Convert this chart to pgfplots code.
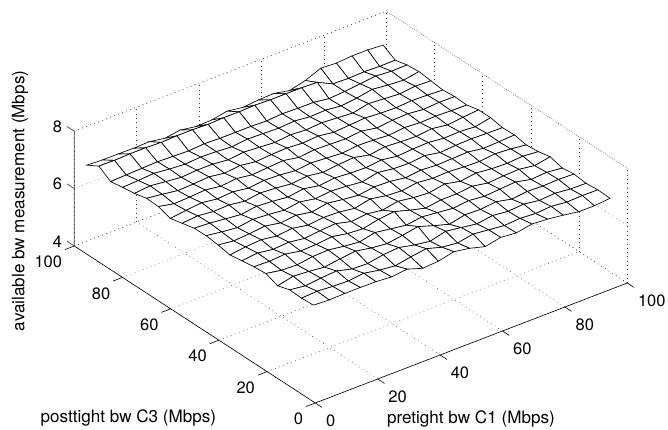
\documentclass[border=0pt]{standalone}
\usepackage{fontspec}
\setmainfont{TeX Gyre Heros}
\usepackage{pgfplots}
\pgfplotsset{compat=1.18}
\begin{document}
\begin{tikzpicture}[x=1pt,y=1pt]
\path[use as bounding box] (0,0) rectangle (668,430);
\begin{axis}[
  at={(315.3pt,27pt)}, anchor=origin,
  disabledatascaling,
  x={(3.12pt,1.2pt)}, y={(-2.41pt,1.57pt)}, z={(0pt,28.7pt)},
  xmin=0,xmax=100,ymin=0,ymax=100,zmin=4,zmax=8,
  xtick={0,20,40,60,80,100}, ytick={0,20,40,60,80,100}, ztick={4,6,8},
  grid=major,
  grid style={black!75, line width=0.5pt, dash pattern=on 0.7pt off 3.6pt},
  major tick length=0pt,
  axis line style={draw=none},
  clip=false,
  unbounded coords=jump,
  /pgf/number format/assume math mode=true,
  tick label style={font=\fontsize{16.5}{18}\selectfont, inner sep=0pt},
  xticklabel style={anchor=west, xshift=10.5pt, yshift=-18pt},
  yticklabel style={anchor=east, xshift=-12pt, yshift=-16pt},
  zticklabel style={anchor=east, xshift=-12pt, yshift=4.5pt},
  label style={font=\fontsize{17.1}{19}\selectfont, inner sep=0pt},
  xlabel={pretight bw C1 (Mbps)},
  ylabel={posttight bw C3 (Mbps)},
  zlabel={available bw measurement (Mbps)},
  xlabel style={at={(axis cs:26.4,-30.4,4)}, anchor=center},
  ylabel style={at={(axis cs:-42.3,22.8,4)}, anchor=center},
  zlabel style={at={(axis cs:3,126.4,4)}, anchor=center, rotate=0},
]
% dotted box edges
\addplot3[black!75, line width=0.5pt, dash pattern=on 0.7pt off 3.6pt, forget plot] coordinates {
 (0,100,8) (100,100,8) (100,0,8) (nan,nan,nan)
 (100,100,4) (100,100,8) (nan,nan,nan)
 (100,0,4) (100,0,8)};
% axis lines and ticks
\addplot3[black, line width=0.6pt, forget plot] coordinates {
 (0,100,4) (0,0,4) (100,0,4) (nan,nan,nan)
 (0,0,4) (0,-2.8,4) (nan,nan,nan)
 (20,0,4) (20,-2.8,4) (nan,nan,nan)
 (40,0,4) (40,-2.8,4) (nan,nan,nan)
 (60,0,4) (60,-2.8,4) (nan,nan,nan)
 (80,0,4) (80,-2.8,4) (nan,nan,nan)
 (100,0,4) (100,-2.8,4) (nan,nan,nan)
 (0,0,4) (-3,0,4) (nan,nan,nan)
 (0,20,4) (-3,20,4) (nan,nan,nan)
 (0,40,4) (-3,40,4) (nan,nan,nan)
 (0,60,4) (-3,60,4) (nan,nan,nan)
 (0,80,4) (-3,80,4) (nan,nan,nan)
 (0,100,4) (-3,100,4)};
\addplot3[black!70, line width=0.7pt, forget plot] coordinates {
 (0,100,4) (0,100,8) (nan,nan,nan)
 (0,100,4) (0,103,4) (nan,nan,nan)
 (0,100,6) (0,103,6) (nan,nan,nan)
 (0,100,8) (0,103,8)};
% surface
\addplot3[surf, shader=faceted, faceted color=black, line width=0.65pt, z buffer=sort,
  colormap={wh}{color=(white) color=(white)}, mesh/rows=20, mesh/cols=20] coordinates {
(4,5.9,6.92) (9,5.9,6.89) (14,5.9,6.91) (19,5.9,6.91) (24,5.9,6.90) (29,5.9,6.86) (34,5.9,6.92) (39,5.9,6.74) (44,5.9,6.78) (49,5.9,6.90) (54,5.9,6.81) (59,5.9,6.66) (64,5.9,6.77) (69,5.9,6.72) (74,5.9,6.82) (79,5.9,6.78) (84,5.9,6.71) (89,5.9,6.62) (94,5.9,6.62) (99,5.9,6.67)

(4,10.9,6.89) (9,10.9,6.92) (14,10.9,6.88) (19,10.9,6.86) (24,10.9,6.92) (29,10.9,6.82) (34,10.9,6.76) (39,10.9,6.86) (44,10.9,6.94) (49,10.9,6.78) (54,10.9,6.72) (59,10.9,6.82) (64,10.9,6.76) (69,10.9,6.70) (74,10.9,6.74) (79,10.9,6.70) (84,10.9,6.74) (89,10.9,6.68) (94,10.9,6.70) (99,10.9,6.69)

(4,15.8,6.91) (9,15.8,6.84) (14,15.8,6.90) (19,15.8,6.94) (24,15.8,6.80) (29,15.8,6.78) (34,15.8,6.88) (39,15.8,6.92) (44,15.8,6.80) (49,15.8,6.72) (54,15.8,6.86) (59,15.8,6.78) (64,15.8,6.70) (69,15.8,6.78) (74,15.8,6.72) (79,15.8,6.76) (84,15.8,6.68) (89,15.8,6.72) (94,15.8,6.66) (99,15.8,6.65)

(4,20.8,6.78) (9,20.8,6.90) (14,20.8,6.86) (19,20.8,6.80) (24,20.8,6.88) (29,20.8,6.94) (34,20.8,6.84) (39,20.8,6.78) (44,20.8,6.86) (49,20.8,6.96) (54,20.8,6.78) (59,20.8,6.62) (64,20.8,6.74) (69,20.8,6.72) (74,20.8,6.78) (79,20.8,6.66) (84,20.8,6.72) (89,20.8,6.70) (94,20.8,6.72) (99,20.8,6.70)

(4,25.7,6.94) (9,25.7,6.84) (14,25.7,6.82) (19,25.7,6.90) (24,25.7,6.92) (29,25.7,6.84) (34,25.7,6.78) (39,25.7,6.90) (44,25.7,6.82) (49,25.7,6.74) (54,25.7,6.82) (59,25.7,6.76) (64,25.7,6.70) (69,25.7,6.76) (74,25.7,6.70) (79,25.7,6.74) (84,25.7,6.78) (89,25.7,6.66) (94,25.7,6.70) (99,25.7,6.64)

(4,30.7,6.90) (9,30.7,6.88) (14,30.7,6.92) (19,30.7,6.82) (24,30.7,6.84) (29,30.7,6.90) (34,30.7,6.80) (39,30.7,6.76) (44,30.7,6.88) (49,30.7,6.94) (54,30.7,6.78) (59,30.7,6.64) (64,30.7,6.72) (69,30.7,6.72) (74,30.7,6.78) (79,30.7,6.68) (84,30.7,6.72) (89,30.7,6.74) (94,30.7,6.66) (99,30.7,6.76)

(4,35.6,6.84) (9,35.6,6.90) (14,35.6,6.82) (19,35.6,6.86) (24,35.6,6.78) (29,35.6,6.84) (34,35.6,6.88) (39,35.6,6.74) (44,35.6,6.80) (49,35.6,6.72) (54,35.6,6.82) (59,35.6,6.74) (64,35.6,6.70) (69,35.6,6.80) (74,35.6,6.68) (79,35.6,6.76) (84,35.6,6.70) (89,35.6,6.68) (94,35.6,6.72) (99,35.6,6.67)

(4,40.6,6.77) (9,40.6,6.84) (14,40.6,6.88) (19,40.6,6.80) (24,40.6,6.86) (29,40.6,6.76) (34,40.6,6.82) (39,40.6,6.80) (44,40.6,6.72) (49,40.6,6.84) (54,40.6,6.74) (59,40.6,6.70) (64,40.6,6.78) (69,40.6,6.72) (74,40.6,6.74) (79,40.6,6.70) (84,40.6,6.68) (89,40.6,6.74) (94,40.6,6.70) (99,40.6,6.63)

(4,45.5,6.85) (9,45.5,6.78) (14,45.5,6.82) (19,45.5,6.88) (24,45.5,6.78) (29,45.5,6.84) (34,45.5,6.74) (39,45.5,6.84) (44,45.5,6.76) (49,45.5,6.70) (54,45.5,6.78) (59,45.5,6.76) (64,45.5,6.68) (69,45.5,6.74) (74,45.5,6.70) (79,45.5,6.72) (84,45.5,6.74) (89,45.5,6.66) (94,45.5,6.68) (99,45.5,6.71)

(4,50.5,6.90) (9,50.5,6.82) (14,50.5,6.76) (19,50.5,6.84) (24,50.5,6.80) (29,50.5,6.74) (34,50.5,6.82) (39,50.5,6.72) (44,50.5,6.78) (49,50.5,6.74) (54,50.5,6.68) (59,50.5,6.80) (64,50.5,6.72) (69,50.5,6.70) (74,50.5,6.76) (79,50.5,6.66) (84,50.5,6.70) (89,50.5,6.72) (94,50.5,6.70) (99,50.5,6.69)

(4,55.4,6.89) (9,55.4,6.86) (14,55.4,6.80) (19,55.4,6.74) (24,55.4,6.82) (29,55.4,6.78) (34,55.4,6.72) (39,55.4,6.80) (44,55.4,6.70) (49,55.4,6.76) (54,55.4,6.72) (59,55.4,6.70) (64,55.4,6.76) (69,55.4,6.68) (74,55.4,6.72) (79,55.4,6.74) (84,55.4,6.68) (89,55.4,6.70) (94,55.4,6.66) (99,55.4,6.77)

(4,60.4,6.79) (9,60.4,6.84) (14,60.4,6.78) (19,60.4,6.80) (24,60.4,6.72) (29,60.4,6.80) (34,60.4,6.76) (39,60.4,6.70) (44,60.4,6.76) (49,60.4,6.68) (54,60.4,6.74) (59,60.4,6.78) (64,60.4,6.66) (69,60.4,6.74) (74,60.4,6.70) (79,60.4,6.68) (84,60.4,6.74) (89,60.4,6.66) (94,60.4,6.72) (99,60.4,6.77)

(4,65.3,6.69) (9,65.3,6.76) (14,65.3,6.82) (19,65.3,6.74) (24,65.3,6.78) (29,65.3,6.70) (34,65.3,6.76) (39,65.3,6.74) (44,65.3,6.68) (49,65.3,6.74) (54,65.3,6.70) (59,65.3,6.66) (64,65.3,6.72) (69,65.3,6.70) (74,65.3,6.66) (79,65.3,6.72) (84,65.3,6.68) (89,65.3,6.70) (94,65.3,6.68) (99,65.3,6.67)

(4,70.3,6.83) (9,70.3,6.72) (14,70.3,6.74) (19,70.3,6.78) (24,70.3,6.70) (29,70.3,6.76) (34,70.3,6.68) (39,70.3,6.72) (44,70.3,6.76) (49,70.3,6.66) (54,70.3,6.72) (59,70.3,6.70) (64,70.3,6.68) (69,70.3,6.74) (74,70.3,6.64) (79,70.3,6.70) (84,70.3,6.72) (89,70.3,6.66) (94,70.3,6.70) (99,70.3,6.69)

(4,75.2,6.85) (9,75.2,6.78) (14,75.2,6.70) (19,75.2,6.72) (24,75.2,6.76) (29,75.2,6.68) (34,75.2,6.74) (39,75.2,6.66) (44,75.2,6.70) (49,75.2,6.72) (54,75.2,6.68) (59,75.2,6.72) (64,75.2,6.64) (69,75.2,6.68) (74,75.2,6.72) (79,75.2,6.68) (84,75.2,6.66) (89,75.2,6.70) (94,75.2,6.68) (99,75.2,6.65)

(4,80.2,6.75) (9,80.2,6.80) (14,80.2,6.74) (19,80.2,6.68) (24,80.2,6.72) (29,80.2,6.72) (34,80.2,6.66) (39,80.2,6.72) (44,80.2,6.68) (49,80.2,6.64) (54,80.2,6.70) (59,80.2,6.66) (64,80.2,6.70) (69,80.2,6.66) (74,80.2,6.62) (79,80.2,6.74) (84,80.2,6.70) (89,80.2,6.66) (94,80.2,6.72) (99,80.2,6.70)

(4,85.1,6.69) (9,85.1,6.72) (14,85.1,6.76) (19,85.1,6.70) (24,85.1,6.66) (29,85.1,6.70) (34,85.1,6.68) (39,85.1,6.64) (44,85.1,6.70) (49,85.1,6.68) (54,85.1,6.66) (59,85.1,6.70) (64,85.1,6.64) (69,85.1,6.66) (74,85.1,6.60) (79,85.1,6.66) (84,85.1,6.76) (89,85.1,6.70) (94,85.1,6.66) (99,85.1,6.75)

(4,90.1,6.62) (9,90.1,6.64) (14,90.1,6.66) (19,90.1,6.68) (24,90.1,6.66) (29,90.1,6.64) (34,90.1,6.68) (39,90.1,6.66) (44,90.1,6.66) (49,90.1,6.66) (54,90.1,6.64) (59,90.1,6.68) (64,90.1,6.66) (69,90.1,6.66) (74,90.1,6.58) (79,90.1,6.62) (84,90.1,6.68) (89,90.1,6.74) (94,90.1,6.70) (99,90.1,6.71)

(4,95,6.89) (9,95,6.88) (14,95,6.90) (19,95,6.90) (24,95,6.88) (29,95,6.90) (34,95,6.90) (39,95,6.88) (44,95,6.90) (49,95,6.90) (54,95,6.92) (59,95,6.90) (64,95,6.90) (69,95,6.90) (74,95,6.88) (79,95,6.62) (84,95,6.60) (89,95,6.62) (94,95,6.60) (99,95,6.61)

(4,100,6.65) (9,100,6.62) (14,100,6.62) (19,100,6.61) (24,100,6.63) (29,100,6.54) (34,100,6.62) (39,100,6.53) (44,100,6.55) (49,100,6.65) (54,100,6.57) (59,100,6.62) (64,100,6.64) (69,100,6.53) (74,100,6.67) (79,100,6.89) (84,100,6.86) (89,100,6.90) (94,100,6.90) (99,100,6.86)
};
\end{axis}
\end{tikzpicture}
\end{document}
